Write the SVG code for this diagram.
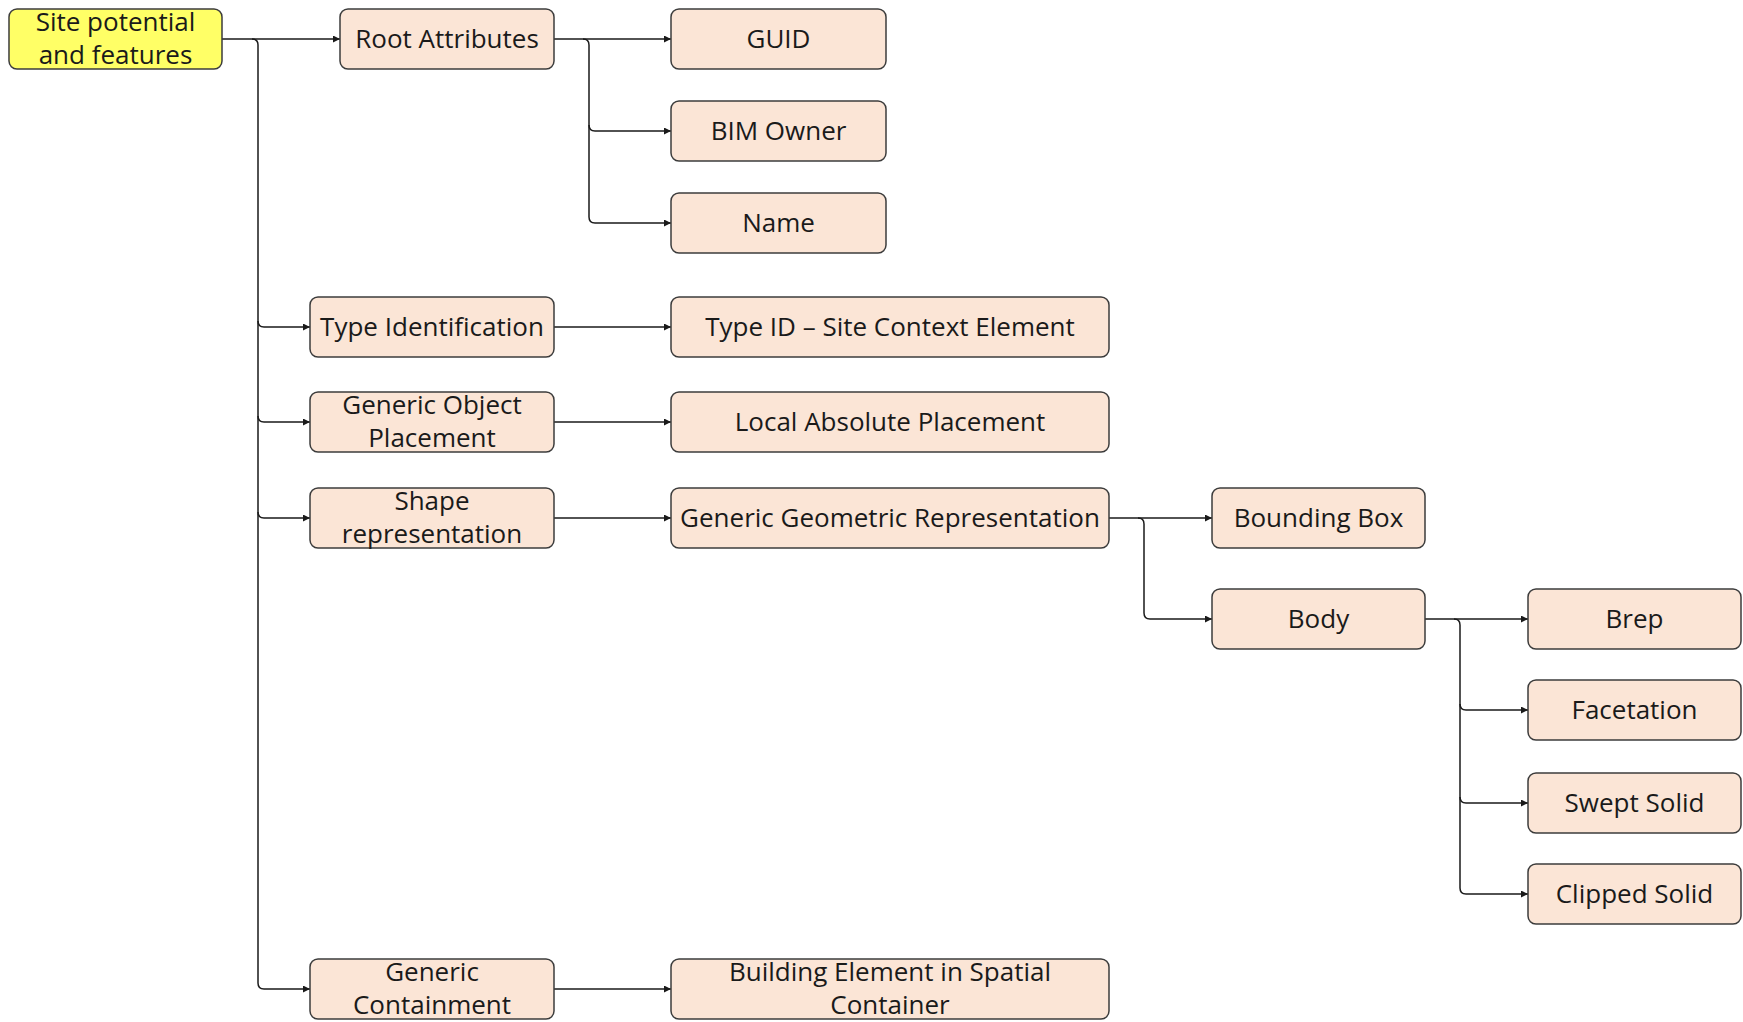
<svg xmlns="http://www.w3.org/2000/svg" width="1743" height="1022" viewBox="0 0 1743 1022">
  <style>
    .box { fill: #fbe5d6; stroke: #3c3c3c; stroke-width: 1.5; }
    .root { fill: #ffff66; stroke: #3c3c3c; stroke-width: 1.5; }
    .lbl { font-family: "Open Sans", "Liberation Sans", sans-serif; font-size: 26px; fill: #1a1a1a; text-anchor: middle; }
    .wire { fill: none; stroke: #1a1a1a; stroke-width: 1.5; }
  </style>
  <defs>
    <marker id="arr" viewBox="0 0 10 10" refX="10" refY="5" markerWidth="8" markerHeight="7" markerUnits="userSpaceOnUse" orient="auto">
      <path d="M0,0 L10,5 L0,10 z" fill="#1a1a1a"/>
    </marker>
  </defs>
  <rect width="1743" height="1022" fill="#ffffff"/>

  <!-- connectors -->
  <g id="connectors">
    <path class="wire" marker-end="url(#arr)" d="M222,39 H340"/>
    <path class="wire" marker-end="url(#arr)" d="M252,39 Q258,39 258,45 V983 Q258,989 264,989 H310"/>
    <path class="wire" marker-end="url(#arr)" d="M258,321 Q258,327 264,327 H310"/>
    <path class="wire" marker-end="url(#arr)" d="M258,416 Q258,422 264,422 H310"/>
    <path class="wire" marker-end="url(#arr)" d="M258,512 Q258,518 264,518 H310"/>

    <path class="wire" marker-end="url(#arr)" d="M554,39 H671"/>
    <path class="wire" marker-end="url(#arr)" d="M583,39 Q589,39 589,45 V217 Q589,223 595,223 H671"/>
    <path class="wire" marker-end="url(#arr)" d="M589,125 Q589,131 595,131 H671"/>

    <path class="wire" marker-end="url(#arr)" d="M554,327 H671"/>
    <path class="wire" marker-end="url(#arr)" d="M554,422 H671"/>
    <path class="wire" marker-end="url(#arr)" d="M554,518 H671"/>
    <path class="wire" marker-end="url(#arr)" d="M554,989 H671"/>

    <path class="wire" marker-end="url(#arr)" d="M1109,518 H1212"/>
    <path class="wire" marker-end="url(#arr)" d="M1138,518 Q1144,518 1144,524 V613 Q1144,619 1150,619 H1212"/>

    <path class="wire" marker-end="url(#arr)" d="M1425,619 H1528"/>
    <path class="wire" marker-end="url(#arr)" d="M1454,619 Q1460,619 1460,625 V888 Q1460,894 1466,894 H1528"/>
    <path class="wire" marker-end="url(#arr)" d="M1460,704 Q1460,710 1466,710 H1528"/>
    <path class="wire" marker-end="url(#arr)" d="M1460,797 Q1460,803 1466,803 H1528"/>
  </g>

  <!-- nodes -->
  <g id="site">
    <rect class="root" x="9" y="9" width="213" height="60" rx="8"/>
    <text class="lbl" x="115.5" y="31">Site potential</text>
    <text class="lbl" x="115.5" y="64">and features</text>
  </g>
  <g id="root-attributes">
    <rect class="box" x="340" y="9" width="214" height="60" rx="8"/>
    <text class="lbl" x="447" y="48">Root Attributes</text>
  </g>
  <g id="guid">
    <rect class="box" x="671" y="9" width="215" height="60" rx="8"/>
    <text class="lbl" x="778.5" y="48">GUID</text>
  </g>
  <g id="bim-owner">
    <rect class="box" x="671" y="101" width="215" height="60" rx="8"/>
    <text class="lbl" x="778.5" y="140">BIM Owner</text>
  </g>
  <g id="name">
    <rect class="box" x="671" y="193" width="215" height="60" rx="8"/>
    <text class="lbl" x="778.5" y="232">Name</text>
  </g>
  <g id="type-identification">
    <rect class="box" x="310" y="297" width="244" height="60" rx="8"/>
    <text class="lbl" x="432" y="336">Type Identification</text>
  </g>
  <g id="type-id-site">
    <rect class="box" x="671" y="297" width="438" height="60" rx="8"/>
    <text class="lbl" x="890" y="336">Type ID – Site Context Element</text>
  </g>
  <g id="generic-object-placement">
    <rect class="box" x="310" y="392" width="244" height="60" rx="8"/>
    <text class="lbl" x="432" y="414">Generic Object</text>
    <text class="lbl" x="432" y="447">Placement</text>
  </g>
  <g id="local-absolute-placement">
    <rect class="box" x="671" y="392" width="438" height="60" rx="8"/>
    <text class="lbl" x="890" y="431">Local Absolute Placement</text>
  </g>
  <g id="shape-representation">
    <rect class="box" x="310" y="488" width="244" height="60" rx="8"/>
    <text class="lbl" x="432" y="510">Shape</text>
    <text class="lbl" x="432" y="543">representation</text>
  </g>
  <g id="generic-geometric-representation">
    <rect class="box" x="671" y="488" width="438" height="60" rx="8"/>
    <text class="lbl" x="890" y="527">Generic Geometric Representation</text>
  </g>
  <g id="bounding-box">
    <rect class="box" x="1212" y="488" width="213" height="60" rx="8"/>
    <text class="lbl" x="1318.5" y="527">Bounding Box</text>
  </g>
  <g id="body">
    <rect class="box" x="1212" y="589" width="213" height="60" rx="8"/>
    <text class="lbl" x="1318.5" y="628">Body</text>
  </g>
  <g id="brep">
    <rect class="box" x="1528" y="589" width="213" height="60" rx="8"/>
    <text class="lbl" x="1634.5" y="628">Brep</text>
  </g>
  <g id="facetation">
    <rect class="box" x="1528" y="680" width="213" height="60" rx="8"/>
    <text class="lbl" x="1634.5" y="719">Facetation</text>
  </g>
  <g id="swept-solid">
    <rect class="box" x="1528" y="773" width="213" height="60" rx="8"/>
    <text class="lbl" x="1634.5" y="812">Swept Solid</text>
  </g>
  <g id="clipped-solid">
    <rect class="box" x="1528" y="864" width="213" height="60" rx="8"/>
    <text class="lbl" x="1634.5" y="903">Clipped Solid</text>
  </g>
  <g id="generic-containment">
    <rect class="box" x="310" y="959" width="244" height="60" rx="8"/>
    <text class="lbl" x="432" y="981">Generic</text>
    <text class="lbl" x="432" y="1014">Containment</text>
  </g>
  <g id="building-element">
    <rect class="box" x="671" y="959" width="438" height="60" rx="8"/>
    <text class="lbl" x="890" y="981">Building Element in Spatial</text>
    <text class="lbl" x="890" y="1014">Container</text>
  </g>
</svg>
